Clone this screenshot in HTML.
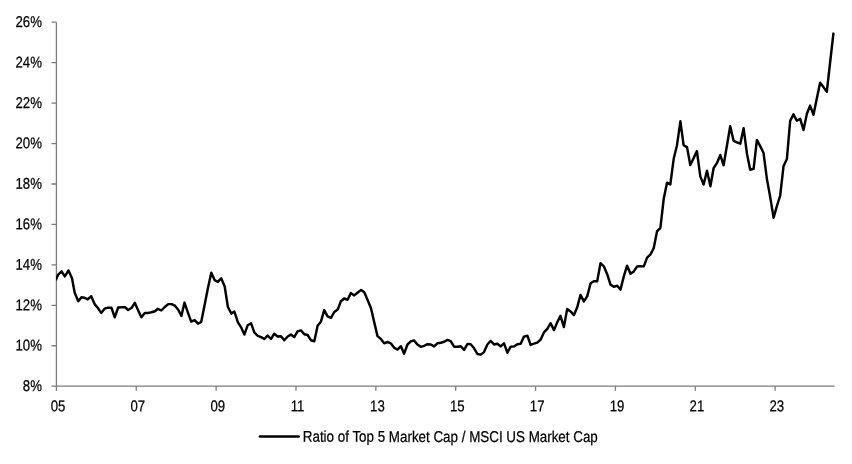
<!DOCTYPE html>
<html lang="en"><head><meta charset="utf-8"><title>Ratio of Top 5 Market Cap / MSCI US Market Cap</title>
<style>
html,body{margin:0;padding:0;background:#fff}
svg{display:block}
.n{font-family:"Liberation Sans",Arial,sans-serif;font-size:15.6px;fill:#000;stroke:#000;stroke-width:.25px}
</style></head><body>
<svg width="852" height="464" viewBox="0 0 852 464">
<defs><clipPath id="cp"><rect x="55.9" y="0" width="800" height="464"/></clipPath></defs>
<rect width="852" height="464" fill="#fff"/>
<path d="M56.4,22.2 V386.2 H834.5" fill="none" stroke="#7c7c7c" stroke-width="1.3"/>
<path d="M51.4,386.20 H56.4 M51.4,345.76 H56.4 M51.4,305.31 H56.4 M51.4,264.87 H56.4 M51.4,224.42 H56.4 M51.4,183.98 H56.4 M51.4,143.53 H56.4 M51.4,103.09 H56.4 M51.4,62.64 H56.4 M51.4,22.20 H56.4 M56.40,386.2 V390.8 M136.26,386.2 V390.8 M216.12,386.2 V390.8 M295.98,386.2 V390.8 M375.84,386.2 V390.8 M455.70,386.2 V390.8 M535.56,386.2 V390.8 M615.42,386.2 V390.8 M695.28,386.2 V390.8 M775.14,386.2 V390.8" fill="none" stroke="#7c7c7c" stroke-width="1.3"/>
<path clip-path="url(#cp)" d="M56.0,279.6 L58.2,274.6 L61.6,271.4 L64.8,276.4 L68.5,270.5 L72.0,278.3 L74.7,292.8 L78.3,301.2 L81.4,297.2 L84.5,297.8 L87.7,299.4 L91.2,296.2 L94.6,304.1 L97.7,307.8 L101.2,312.9 L104.6,308.7 L108.0,307.6 L111.5,307.8 L114.7,317.3 L118.2,307.5 L121.6,307.2 L125.0,307.2 L128.1,310.0 L131.6,307.8 L134.8,302.8 L138.2,310.4 L141.4,317.3 L144.8,312.9 L148.2,312.9 L151.5,312.2 L154.9,311.2 L157.9,308.8 L161.3,310.5 L164.8,307.0 L168.2,304.1 L171.6,304.1 L174.9,305.7 L178.1,309.5 L181.4,316.0 L184.5,302.6 L188.1,313.2 L191.2,321.6 L194.6,320.1 L198.0,323.7 L201.2,322.0 L204.6,305.1 L208.0,287.7 L211.3,272.7 L214.7,280.2 L217.8,281.8 L221.2,278.3 L224.7,286.5 L227.9,307.0 L231.4,313.6 L234.4,311.6 L237.9,322.4 L241.3,327.7 L244.4,334.6 L247.7,325.2 L251.1,323.3 L254.4,332.7 L257.8,335.8 L261.1,337.1 L264.4,339.0 L267.6,335.5 L271.1,339.0 L274.2,333.7 L277.6,336.5 L281.0,336.2 L284.3,340.2 L287.7,336.5 L290.8,334.6 L294.2,337.1 L297.7,331.2 L301.0,330.4 L304.3,334.2 L307.6,335.0 L310.9,340.2 L314.3,341.2 L317.6,325.8 L321.0,321.4 L324.2,310.1 L327.6,316.4 L331.0,317.9 L334.3,312.0 L337.7,309.5 L340.9,301.3 L344.2,298.5 L347.6,299.8 L350.8,293.1 L354.2,295.4 L357.5,292.7 L361.1,289.9 L364.3,292.3 L367.6,300.1 L371.0,308.3 L374.2,322.1 L377.5,336.1 L380.8,338.9 L384.2,343.3 L387.6,342.0 L390.8,343.3 L394.2,347.7 L397.5,349.6 L400.9,346.2 L404.1,353.7 L407.5,344.5 L410.8,341.4 L414.0,340.4 L417.4,344.5 L420.8,346.8 L424.1,345.8 L427.5,344.2 L430.8,344.5 L434.1,346.4 L437.4,343.3 L440.8,342.7 L444.1,341.8 L447.5,339.9 L450.7,341.1 L454.1,346.7 L457.4,346.8 L460.8,346.2 L464.1,349.9 L467.5,343.9 L470.7,344.2 L474.1,348.3 L477.4,354.0 L480.8,354.6 L484.0,352.1 L487.4,344.5 L490.7,340.8 L494.1,344.5 L497.3,343.7 L500.7,346.4 L504.0,343.3 L507.4,352.7 L510.7,346.7 L514.0,346.4 L517.3,344.2 L520.7,343.7 L524.0,336.6 L527.4,335.7 L530.6,344.9 L534.0,343.7 L537.3,342.7 L540.7,339.5 L543.9,332.4 L547.3,328.8 L550.6,323.2 L554.0,330.1 L557.3,322.1 L560.5,315.8 L563.9,327.1 L567.2,308.9 L570.6,311.4 L573.9,315.2 L577.3,307.0 L580.5,294.9 L583.9,301.4 L587.2,296.4 L590.6,283.2 L593.8,281.3 L597.2,281.3 L600.5,263.2 L603.9,266.4 L607.1,273.9 L610.5,284.6 L613.8,286.7 L617.2,285.8 L620.5,289.6 L623.8,276.4 L627.1,265.7 L630.5,273.7 L633.8,271.4 L637.2,266.4 L640.4,266.1 L643.8,266.4 L647.1,257.6 L650.5,254.4 L653.7,248.2 L657.0,231.4 L660.4,227.9 L663.7,199.0 L667.0,182.7 L670.3,184.5 L673.7,158.8 L677.0,145.2 L680.4,121.3 L683.6,145.2 L687.0,147.1 L690.3,165.0 L693.7,158.0 L696.9,151.0 L700.3,176.4 L703.6,184.5 L707.0,170.7 L710.4,186.2 L713.6,168.2 L716.9,163.2 L720.3,155.0 L723.6,165.3 L727.0,145.2 L730.2,126.3 L733.6,140.8 L736.9,142.4 L740.3,143.7 L743.6,128.2 L747.0,154.0 L750.2,169.8 L753.6,168.8 L756.9,139.9 L760.3,146.4 L763.5,152.7 L766.9,178.9 L770.2,197.1 L773.6,217.7 L776.8,206.4 L780.2,195.5 L783.5,166.3 L786.9,159.0 L790.2,120.7 L793.5,114.4 L796.8,120.7 L800.2,118.8 L803.5,129.9 L806.9,113.8 L810.1,105.6 L813.5,114.8 L816.8,98.4 L820.1,82.7 L823.5,87.1 L826.8,91.9 L830.1,62.5 L833.4,33.6" fill="none" stroke="#000" stroke-width="2.45" stroke-linejoin="round" stroke-linecap="round"/>
<path d="M260,436.5 H298.6" fill="none" stroke="#000" stroke-width="2.7" stroke-linecap="round"/>
<text transform="translate(302.8 441.8) rotate(.05)" class="n" textLength="295" lengthAdjust="spacingAndGlyphs">Ratio of Top 5 Market Cap / MSCI US Market Cap</text>
<text transform="translate(41.9 391.05) scale(.845 1) rotate(.05)" text-anchor="end" class="n">8%</text>
<text transform="translate(41.9 350.61) scale(.845 1) rotate(.05)" text-anchor="end" class="n">10%</text>
<text transform="translate(41.9 310.16) scale(.845 1) rotate(.05)" text-anchor="end" class="n">12%</text>
<text transform="translate(41.9 269.72) scale(.845 1) rotate(.05)" text-anchor="end" class="n">14%</text>
<text transform="translate(41.9 229.27) scale(.845 1) rotate(.05)" text-anchor="end" class="n">16%</text>
<text transform="translate(41.9 188.83) scale(.845 1) rotate(.05)" text-anchor="end" class="n">18%</text>
<text transform="translate(41.9 148.38) scale(.845 1) rotate(.05)" text-anchor="end" class="n">20%</text>
<text transform="translate(41.9 107.94) scale(.845 1) rotate(.05)" text-anchor="end" class="n">22%</text>
<text transform="translate(41.9 67.49) scale(.845 1) rotate(.05)" text-anchor="end" class="n">24%</text>
<text transform="translate(41.9 27.05) scale(.845 1) rotate(.05)" text-anchor="end" class="n">26%</text>
<text transform="translate(58.00 411.2) scale(.845 1) rotate(.05)" text-anchor="middle" class="n">05</text>
<text transform="translate(137.86 411.2) scale(.845 1) rotate(.05)" text-anchor="middle" class="n">07</text>
<text transform="translate(217.72 411.2) scale(.845 1) rotate(.05)" text-anchor="middle" class="n">09</text>
<text transform="translate(297.58 411.2) scale(.845 1) rotate(.05)" text-anchor="middle" class="n">11</text>
<text transform="translate(377.44 411.2) scale(.845 1) rotate(.05)" text-anchor="middle" class="n">13</text>
<text transform="translate(457.30 411.2) scale(.845 1) rotate(.05)" text-anchor="middle" class="n">15</text>
<text transform="translate(537.16 411.2) scale(.845 1) rotate(.05)" text-anchor="middle" class="n">17</text>
<text transform="translate(617.02 411.2) scale(.845 1) rotate(.05)" text-anchor="middle" class="n">19</text>
<text transform="translate(696.88 411.2) scale(.845 1) rotate(.05)" text-anchor="middle" class="n">21</text>
<text transform="translate(776.74 411.2) scale(.845 1) rotate(.05)" text-anchor="middle" class="n">23</text>
</svg>
</body></html>
